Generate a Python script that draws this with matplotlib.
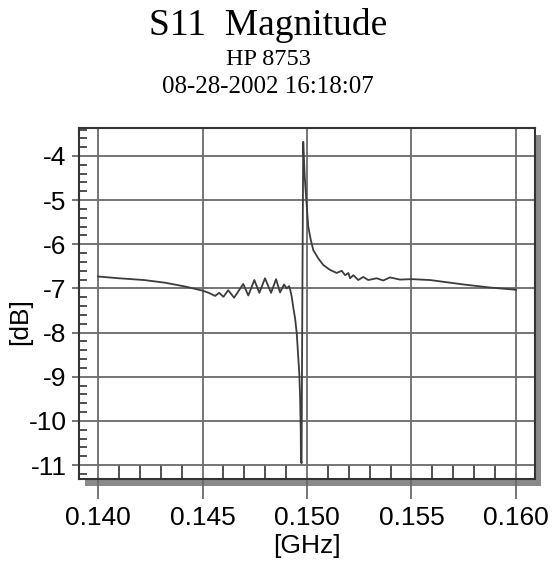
import matplotlib
matplotlib.use("Agg")
import matplotlib.pyplot as plt
from matplotlib.patches import Rectangle
from matplotlib.ticker import MultipleLocator

plt.rcParams['axes.unicode_minus'] = False

#---------------------Data---------------------------
freq_ghz = [0.1400, 0.1410, 0.1422, 0.1432, 0.1442, 0.1450,
            0.14530, 0.14560, 0.14580, 0.14600, 0.14623, 0.14651,
            0.14695, 0.14719, 0.14748, 0.14772, 0.14799, 0.14828,
            0.14852, 0.14871, 0.14890, 0.14903, 0.14915, 0.14921,
            0.14927, 0.14934, 0.14943, 0.14951, 0.14958, 0.14963,
            0.14967, 0.14970, 0.14971, 0.14974,
            0.14978, 0.14982, 0.14986, 0.14990, 0.14999, 0.15006,
            0.15018, 0.15030, 0.15054, 0.15078, 0.15110,
            0.15142, 0.15166, 0.15182, 0.15198, 0.15206, 0.15222,
            0.15245, 0.15269, 0.15293, 0.15333, 0.15365, 0.15397,
            0.15445, 0.15501, 0.15589, 0.15748, 0.15876, 0.16000]
mag_db = [-6.73, -6.77, -6.81, -6.87, -6.96, -7.05,
          -7.10, -7.17, -7.10, -7.19, -7.04, -7.21,
          -6.90, -7.16, -6.81, -7.10, -6.77, -7.10,
          -6.79, -7.09, -6.91, -7.00, -6.95, -7.06,
          -7.19, -7.42, -7.68, -8.02, -8.55, -8.92,
          -9.46, -10.21, -10.90, -10.96,
          -7.00, -3.68, -4.16, -4.54, -5.15, -5.60,
          -5.90, -6.13, -6.32, -6.47, -6.58,
          -6.65, -6.60, -6.70, -6.65, -6.77, -6.70,
          -6.81, -6.74, -6.81, -6.77, -6.82, -6.75,
          -6.80, -6.79, -6.81, -6.91, -6.98, -7.03]

x_ticks = [0.140, 0.145, 0.150, 0.155, 0.160]
x_labels = ['0.140', '0.145', '0.150', '0.155', '0.160']
y_ticks = [-11, -10, -9, -8, -7, -6, -5, -4]
y_labels = ['-11', '-10', '-9', '-8', '-7', '-6', '-5', '-4']

#---------------------Figure-------------------------
W, H = 558, 562
fig = plt.figure(figsize=(W / 100, H / 100), dpi=100)
left, right, top, bottom = 79, 535, 128, 479
ax = fig.add_axes([left / W, 1 - bottom / H, (right - left) / W, (bottom - top) / H])

# тень под рамкой
fig.add_artist(Rectangle((left / W + 6 / W, 1 - bottom / H - 7 / H),
                         (right - left) / W, (bottom - top) / H,
                         transform=fig.transFigure, facecolor='#8a8a8a',
                         edgecolor='none', zorder=-1))

ax.plot(freq_ghz, mag_db, color='#3c3c3c', lw=1.3)

ax.set_xlim(0.13909, 0.16091)
ax.set_ylim(-11.317, -3.366)

grid_c = '#6a6a6a'
ax.set_xticks(x_ticks)
ax.set_xticklabels(x_labels)
ax.set_yticks(y_ticks)
ax.set_yticklabels(y_labels)
ax.xaxis.set_minor_locator(MultipleLocator(0.001))
ax.yaxis.set_minor_locator(MultipleLocator(0.2))
ax.grid(True, which='major', color=grid_c, lw=1.3)

ax.tick_params(axis='x', which='major', direction='out', length=14.4,
               width=1.3, color=grid_c, pad=5, labelsize=19)
ax.tick_params(axis='y', which='major', direction='out', length=5,
               width=1.3, color=grid_c, pad=4, labelsize=19)
ax.tick_params(axis='x', which='minor', direction='in', length=10,
               width=1.2, color='#333333')
ax.tick_params(axis='y', which='minor', direction='in', length=5.8,
               width=1.2, color='#333333')
for lab in ax.get_xticklabels() + ax.get_yticklabels():
    lab.set_family('Liberation Sans')

for s in ax.spines.values():
    s.set_color('#333333')
    s.set_linewidth(1.5)

ax.set_xlabel('[GHz]', family='Liberation Sans', fontsize=19, labelpad=3)
fig.text(20 / W, 1 - 322 / H, '[dB]', rotation=90, ha='center', va='center',
         family='Liberation Sans', fontsize=19)

#---------------------Titles-------------------------
cx = 268 / W
fig.text(cx, 1 - 35 / H, 'S11  Magnitude', ha='center', va='baseline',
         family='Liberation Serif', fontsize=27)
fig.text(cx, 1 - 65 / H, 'HP 8753', ha='center', va='baseline',
         family='Liberation Serif', fontsize=17.5)
fig.text(cx, 1 - 92.7 / H, '08-28-2002 16:18:07', ha='center', va='baseline',
         family='Liberation Serif', fontsize=18)

fig.savefig('out.png', dpi=100)
